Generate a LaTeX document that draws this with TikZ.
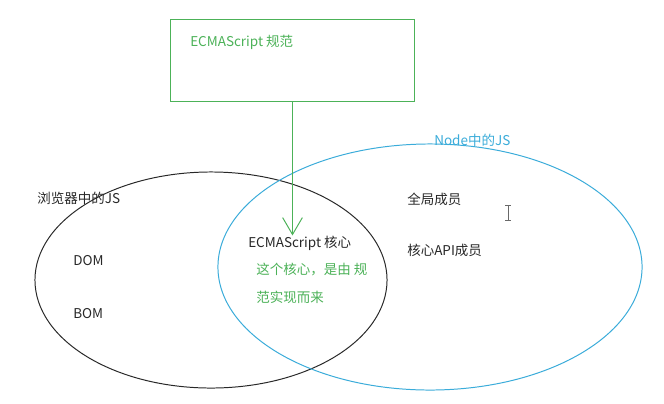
\documentclass[tikz,border=0pt]{standalone}
\usepackage{fontspec}
\setmainfont{Noto Sans CJK SC}
\usetikzlibrary{arrows.meta,positioning,shapes.geometric}
\definecolor{leaf}{RGB}{76,178,88}
\definecolor{sky}{RGB}{58,172,218}
\definecolor{ink}{RGB}{40,40,40}
\tikzset{
  >={Straight Barb[length=12pt,width=14pt]},
  txt/.style={font=\fontsize{9.6}{12}\selectfont,text=#1,inner sep=0pt,anchor=west},
  txt/.default=ink,
  ring/.style={ellipse,draw=#1,line width=0.7pt,inner sep=0pt},
  ring/.default=ink,
  spec box/.style={draw=leaf,line width=0.7pt,inner sep=0pt,minimum width=6.075cm,minimum height=2.05cm},
}
\begin{document}
\begin{tikzpicture}[x=0.025cm,y=-0.025cm]
    \useasboundingbox[fill=white] (0,0) rectangle (664,403);
    % the two runtimes
    \node[ring=ink,minimum width=8.8cm,minimum height=5.4cm] (browser) at (211,280) {};
    \node[ring=sky,minimum width=10.6cm,minimum height=6.15cm] (noderun) at (430,267) {};
    % the spec on top
    \node[spec box] (spec) at (292.5,60) {};
    \node[txt=leaf] (spectxt) at (190,42) {ECMAScript 规范};
    % labels
    \node[txt=sky] (nodetxt) at (434,140) {Node中的JS};
    \node[txt] (browsertxt) at (37,198) {浏览器中的JS};
    \node[txt] (dom) at (73,261) {DOM};
    \node[txt] (bom) at (73,314) {BOM};
    \node[txt] (core) at (248,243) {ECMAScript 核心};
    \node[txt=leaf] (note1) at (256,270) {这个核心，是由 规};
    \node[txt=leaf] (note2) at (256,297) {范实现而来};
    \node[txt] (globals) at (407,199) {全局成员};
    \node[txt] (coreapi) at (407,250) {核心API成员};
    \draw[->,leaf,line width=0.7pt] (spec.south) -- (spec.south |- core.north);
    % text cursor
    \draw[ink!70,line width=0.6pt] (508,205) -- (508,220) (505,205) -- (511,205) (505,220) -- (511,220);
\end{tikzpicture}
\end{document}
